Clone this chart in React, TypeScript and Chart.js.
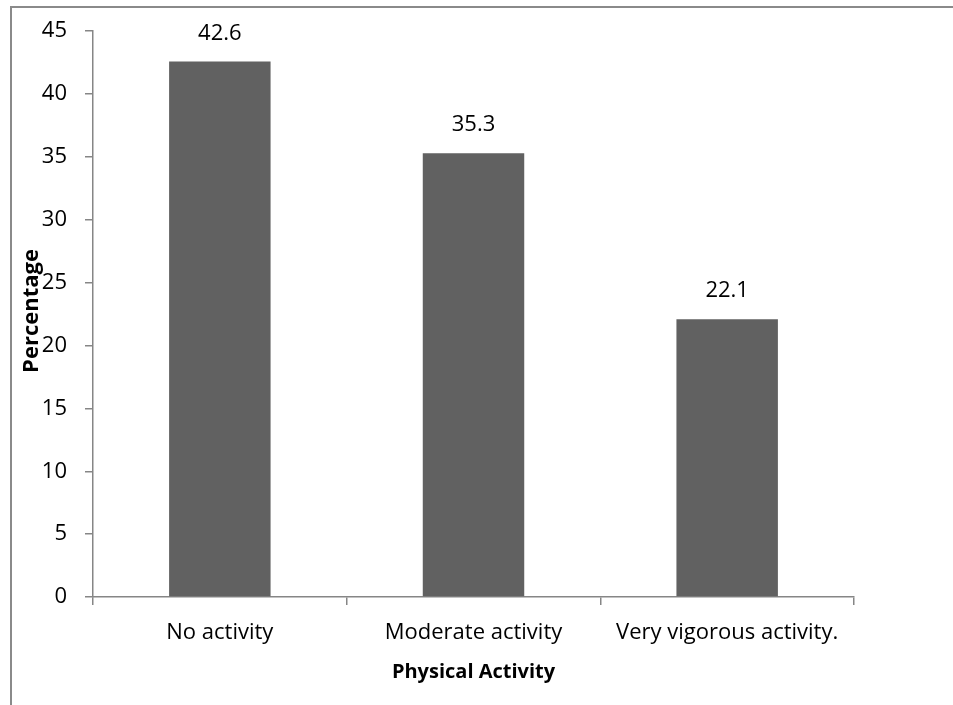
import React, { useEffect, useRef } from "react";
import { Chart, registerables } from "chart.js";

Chart.register(...registerables);

const categories = ["No activity", "Moderate activity", "Very vigorous activity."];
const percentages = [42.6, 35.3, 22.1];
const yTicks = [0, 5, 10, 15, 20, 25, 30, 35, 40, 45];
const xTitle = "Physical Activity";
const yTitle = "Percentage";

const FONT = "'Open Sans', sans-serif";
const FS = 22;

const overlayPlugin = {
  id: "overlay",
  afterDatasetsDraw(chart: any) {
    const ctx = chart.ctx;
    const area = chart.chartArea;
    ctx.save();
    ctx.fillStyle = "#000";
    ctx.font = `${FS}px ${FONT}`;
    ctx.textAlign = "center";
    ctx.textBaseline = "bottom";
    const meta = chart.getDatasetMeta(0);
    meta.data.forEach((bar: any, i: number) => {
      ctx.fillText(percentages[i].toFixed(1), bar.x, bar.y - 17);
    });
    ctx.font = `bold 20px ${FONT}`;
    ctx.textBaseline = "middle";
    ctx.fillText(xTitle, (area.left + area.right) / 2, 672);
    ctx.font = `bold ${FS}px ${FONT}`;
    ctx.translate(32, 311);
    ctx.rotate(-Math.PI / 2);
    ctx.fillText(yTitle, 0, 0);
    ctx.restore();
  },
};

export default function App() {
  const ref = useRef<HTMLCanvasElement>(null);
  useEffect(() => {
    if (!ref.current) return;
    const chart = new Chart(ref.current, {
      type: "bar",
      data: {
        labels: categories,
        datasets: [
          {
            data: percentages,
            backgroundColor: "#616161",
            barPercentage: 0.4,
            categoryPercentage: 1,
          },
        ],
      },
      options: {
        animation: false,
        responsive: false,
        maintainAspectRatio: false,
        layout: { padding: { left: 0, right: 99, top: 29, bottom: 0 } },
        plugins: { legend: { display: false }, tooltip: { enabled: false } },
        scales: {
          x: {
            offset: true,
            grid: {
              offset: true,
              drawOnChartArea: false,
              drawTicks: true,
              tickLength: 8,
              color: "#868686",
              lineWidth: 1.5,
            },
            border: { color: "#868686", width: 1.5 },
            ticks: { color: "#000", font: { family: FONT, size: FS }, padding: 15, maxRotation: 0 },
            afterFit: (s: any) => {
              s.height = 108;
            },
          },
          y: {
            min: 0,
            max: 45,
            afterBuildTicks: (s: any) => {
              s.ticks = yTicks.map((v) => ({ value: v }));
            },
            grid: {
              drawOnChartArea: false,
              drawTicks: true,
              tickLength: 8,
              color: "#868686",
              lineWidth: 1.5,
            },
            border: { color: "#868686", width: 1.5 },
            ticks: { color: "#000", font: { family: FONT, size: FS }, padding: 18 },
            afterFit: (s: any) => {
              s.width = 93;
            },
          },
        },
      },
      plugins: [overlayPlugin],
    });
    return () => chart.destroy();
  }, []);
  return (
    <div style={{ position: "fixed", left: 0, top: 0, width: 953, height: 705, background: "#fff" }}>
      <div
        style={{
          position: "absolute",
          left: 10,
          top: 6,
          width: 1000,
          height: 800,
          borderTop: "2px solid #8a8a8a",
          borderLeft: "2px solid #8a8a8a",
        }}
      />
      <canvas ref={ref} width={953} height={705} style={{ position: "absolute", left: 0, top: 0 }} />
    </div>
  );
}
